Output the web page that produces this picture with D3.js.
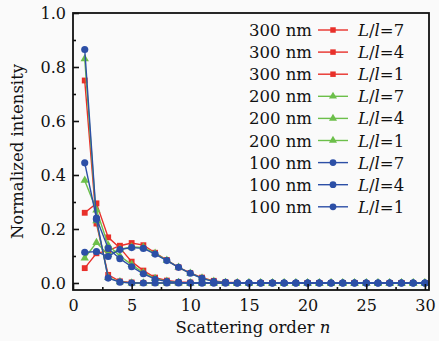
<!DOCTYPE html>
<html>
<head>
<meta charset="utf-8">
<script src="https://cdnjs.cloudflare.com/ajax/libs/d3/7.8.5/d3.min.js"></script>
<style>
  body { margin: 0; background: #fafafa; }
  svg { display: block; }
  text { font-family: "DejaVu Serif", serif; fill: #111; }
</style>
</head>
<body>
<div id="chart"></div>
<script>
// scattering order 1..30
const orders = d3.range(1, 31);
const pad = (arr) => arr.concat(new Array(30 - arr.length).fill(0));

const red7 = pad([0.055, 0.11, 0.12, 0.138, 0.148, 0.14, 0.112, 0.085, 0.058, 0.037, 0.02, 0.008, 0.003, 0.001]);
const red4 = pad([0.26, 0.295, 0.169, 0.13, 0.079, 0.046, 0.02, 0.009, 0.004, 0.002, 0.001]);
const red1 = pad([0.75, 0.22, 0.03, 0.006, 0.002]);
const green7 = pad([0.092, 0.15, 0.105, 0.125, 0.133, 0.132, 0.11, 0.084, 0.058, 0.036, 0.018, 0.006, 0.002]);
const green4 = pad([0.38, 0.27, 0.14, 0.1, 0.068, 0.038, 0.016, 0.006, 0.002]);
const green1 = pad([0.83, 0.23, 0.02, 0.004]);
const blue7 = pad([0.114, 0.116, 0.098, 0.124, 0.131, 0.128, 0.107, 0.083, 0.058, 0.036, 0.017, 0.005, 0.002]);
const blue4 = pad([0.445, 0.24, 0.128, 0.09, 0.06, 0.034, 0.014, 0.005, 0.002]);
const blue1 = pad([0.865, 0.236, 0.018, 0.003]);

const sizeLabels = ["300 nm", "300 nm", "300 nm", "200 nm", "200 nm", "200 nm", "100 nm", "100 nm", "100 nm"];
const ratioLabels = ["7", "4", "1", "7", "4", "1", "7", "4", "1"];
const xTicks = [0, 5, 10, 15, 20, 25, 30];
const yTicks = [0, 0.2, 0.4, 0.6, 0.8, 1.0];

const RED = "#e8302a", GREEN = "#6cbf4a", BLUE = "#2c4fa6";
const series = [
  { values: red7, color: RED, shape: d3.symbolSquare },
  { values: red4, color: RED, shape: d3.symbolSquare },
  { values: red1, color: RED, shape: d3.symbolSquare },
  { values: green7, color: GREEN, shape: d3.symbolTriangle },
  { values: green4, color: GREEN, shape: d3.symbolTriangle },
  { values: green1, color: GREEN, shape: d3.symbolTriangle },
  { values: blue7, color: BLUE, shape: d3.symbolCircle },
  { values: blue4, color: BLUE, shape: d3.symbolCircle },
  { values: blue1, color: BLUE, shape: d3.symbolCircle }
];

const width = 439, height = 341;
const margin = { top: 13, right: 10, bottom: 51, left: 73 };
const w = width - margin.left - margin.right;
const h = height - margin.top - margin.bottom;

const svg = d3.select('#chart').append('svg')
  .attr('width', width)
  .attr('height', height);

const chart = svg.append('g')
  .attr('transform', `translate(${margin.left}, ${margin.top})`);

const x = d3.scaleLinear().domain([0, 30.35]).range([0, w]);
const y = d3.scaleLinear().domain([-0.026, 1.0]).range([h, 0]);

// series lines and markers
const line = d3.line().x((d, i) => x(orders[i])).y(d => y(d));
const symSize = { [d3.symbolSquare]: 34, [d3.symbolTriangle]: 30, [d3.symbolCircle]: 40 };

series.forEach(s => {
  chart.append('path')
    .datum(s.values)
    .attr('fill', 'none')
    .attr('stroke', s.color)
    .attr('stroke-width', 1.4)
    .attr('d', line);
  chart.selectAll(null)
    .data(s.values)
    .enter().append('path')
    .attr('transform', (d, i) => `translate(${x(orders[i])}, ${y(d)})`)
    .attr('d', d3.symbol().type(s.shape).size(s.shape === d3.symbolSquare ? 34 : s.shape === d3.symbolTriangle ? 30 : 40))
    .attr('fill', s.color);
});

// axes, ticks pointing inward
const xAxis = chart.append('g')
  .attr('transform', `translate(0, ${h})`)
  .call(d3.axisBottom(x).tickValues(xTicks).tickSize(-6).tickPadding(10).tickFormat(d3.format('d')));
const xMinor = chart.append('g')
  .attr('transform', `translate(0, ${h})`)
  .call(d3.axisBottom(x).tickValues(d3.range(2.5, 30, 5)).tickSize(-3).tickFormat(''));
const yAxis = chart.append('g')
  .call(d3.axisLeft(y).tickValues(yTicks).tickSize(-6).tickPadding(7).tickFormat(d3.format('.1f')));
const yMinor = chart.append('g')
  .call(d3.axisLeft(y).tickValues(d3.range(0.1, 1, 0.2)).tickSize(-3).tickFormat(''));

[xAxis, xMinor, yAxis, yMinor].forEach(a => {
  a.select('.domain').remove();
  a.selectAll('line').attr('stroke', '#111').attr('stroke-width', 1.6);
  a.selectAll('text').style('font-family', '"DejaVu Serif", serif').style('font-size', '16px').attr('fill', '#111');
});

// frame
chart.append('rect')
  .attr('width', w).attr('height', h)
  .attr('fill', 'none').attr('stroke', '#111').attr('stroke-width', 1.8);

// axis titles
const xt = svg.append('text')
  .attr('x', margin.left + w / 2 + 2)
  .attr('y', 333)
  .attr('text-anchor', 'middle')
  .style('font-size', '16.5px');
xt.append('tspan').text('Scattering order ');
xt.append('tspan').attr('font-style', 'italic').text('n');

svg.append('text')
  .attr('transform', `translate(23, ${margin.top + h / 2}) rotate(-90)`)
  .attr('text-anchor', 'middle')
  .style('font-size', '16.5px')
  .text('Normalized intensity');

// legend
const legend = chart.append('g').attr('transform', 'translate(0, 0)');
series.forEach((s, i) => {
  const cy = 17 + i * 22.1;
  const row = legend.append('g').attr('transform', `translate(0, ${cy})`);
  row.append('text')
    .attr('x', 239).attr('y', 6)
    .attr('text-anchor', 'end')
    .style('font-size', '16.5px')
    .text(sizeLabels[i]);
  row.append('line')
    .attr('x1', 245).attr('x2', 275)
    .attr('stroke', s.color).attr('stroke-width', 1.4);
  row.append('path')
    .attr('transform', 'translate(260, 0)')
    .attr('d', d3.symbol().type(s.shape).size(s.shape === d3.symbolSquare ? 30 : s.shape === d3.symbolTriangle ? 28 : 36))
    .attr('fill', s.color);
  const lab = row.append('text')
    .attr('x', 285).attr('y', 6)
    .style('font-size', '16.5px');
  lab.append('tspan').attr('font-style', 'italic').text('L');
  lab.append('tspan').text('/');
  lab.append('tspan').attr('font-style', 'italic').text('l');
  lab.append('tspan').text('=' + ratioLabels[i]);
});
</script>
</body>
</html>
